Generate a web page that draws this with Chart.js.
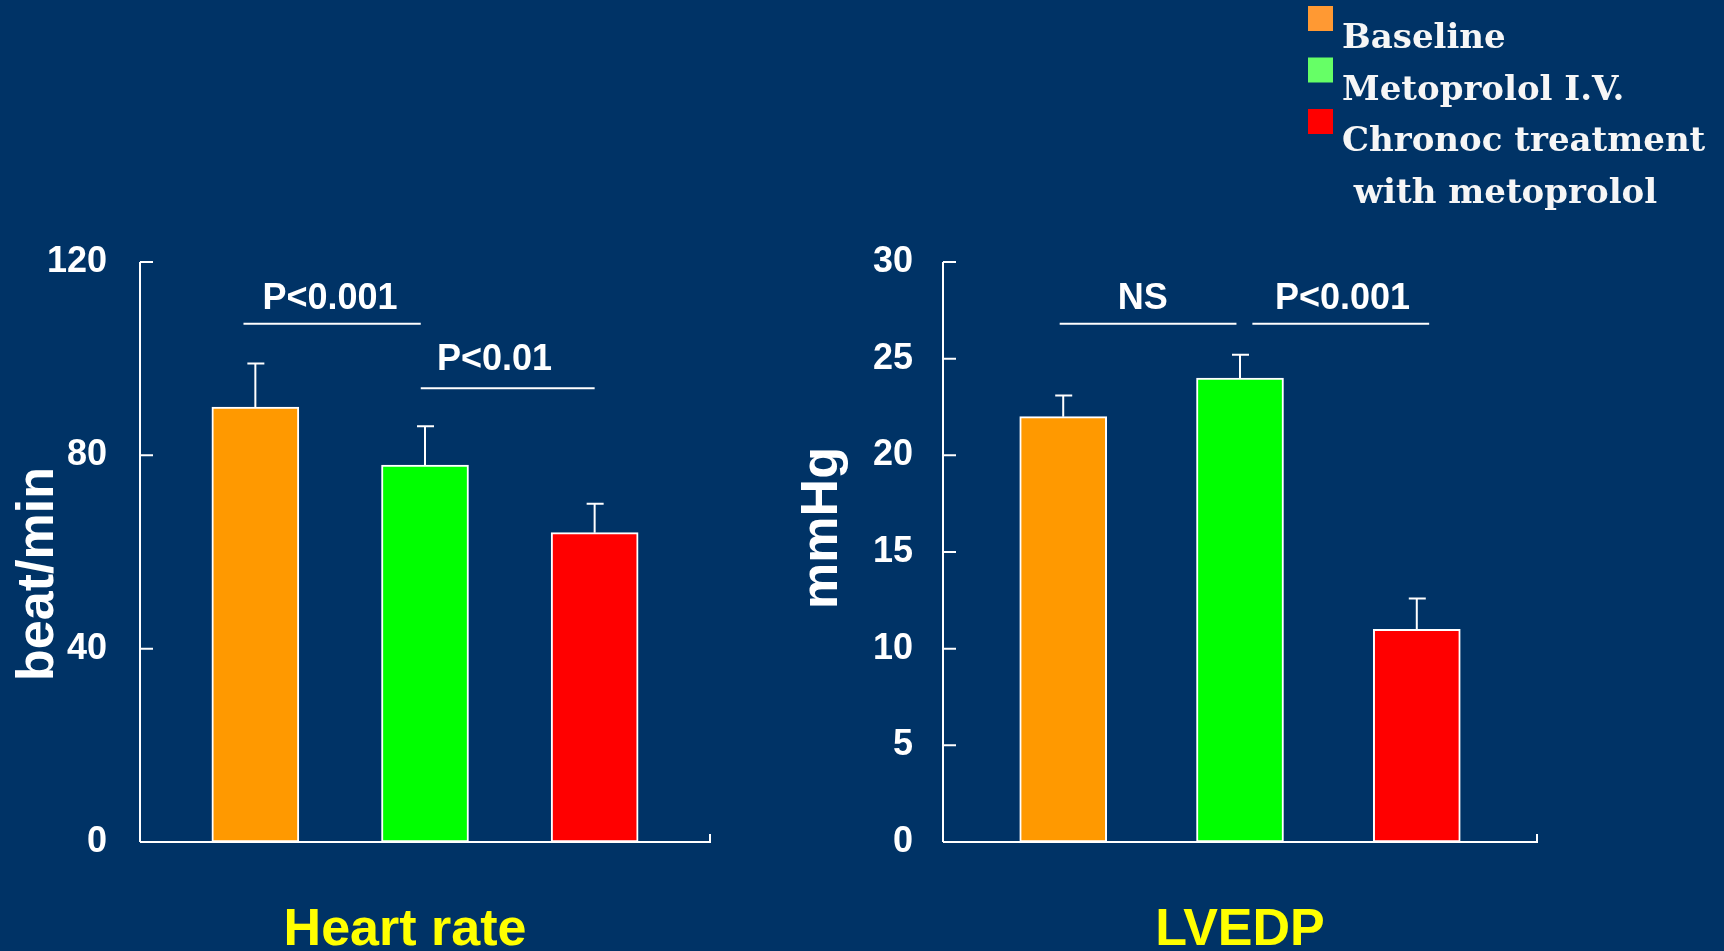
<!DOCTYPE html>
<html>
<head>
<meta charset="utf-8">
<title>Metoprolol: heart rate and LVEDP</title>
<script src="https://cdn.jsdelivr.net/npm/chart.js@4/dist/chart.umd.min.js"></script>
<style>
  html, body { margin: 0; padding: 0; background: #003366; overflow: hidden; }
  #wrap { position: relative; width: 1724px; height: 951px; }
  #wrap canvas { position: absolute; left: 0; top: 0; }
</style>
</head>
<body>
<div id="wrap">
  <canvas id="hrChart" width="1724" height="951"></canvas>
  <canvas id="lvChart" width="1724" height="951"></canvas>
</div>
<script>
// Treatment groups, in plotting order
const groups = ['Baseline', 'Metoprolol I.V.', 'Chronoc treatment with metoprolol'];
const legendLines = [['Baseline'], ['Metoprolol I.V.'], ['Chronoc treatment', ' with metoprolol']];
const groupPos = [1, 2, 3];

// Heart rate (beat/min): mean and SD
const heartRate = [90, 78, 64];
const heartRateSD = [9, 8, 6];
const heartRateTicks = [0, 40, 80, 120];

// LVEDP (mmHg): mean and SD
const lvedp = [22, 24, 11];
const lvedpSD = [1.1, 1.2, 1.6];
const lvedpTicks = [0, 5, 10, 15, 20, 25, 30];

// Pairwise comparison brackets (x in group units, levels in axis units)
const heartRateTests = [
  { text: 'P<0.001', from: 0.93, to: 1.975, level: 107.2, textAt: 1.44, textLevel: 110.3 },
  { text: 'P<0.01',  from: 1.975, to: 3.0,  level: 93.9,  textAt: 2.41, textLevel: 97.6 }
];
const lvedpTests = [
  { text: 'NS',      from: 0.98, to: 1.98, level: 26.8, textAt: 1.45, textLevel: 27.57 },
  { text: 'P<0.001', from: 2.07, to: 3.07, level: 26.8, textAt: 2.58, textLevel: 27.57 }
];

const barColors = ['#ff9900', '#00ff00', '#ff0000'];
const legendColors = ['#ff9933', '#66ff66', '#ff0000'];

const SANS = '"Liberation Sans", Arial, Helvetica, sans-serif';
const SERIF = '"DejaVu Serif", "Liberation Serif", serif';
const AXIS_BOX = 140;   // width reserved for y tick labels

Chart.defaults.font.family = SANS;

// Axes with inward ticks, error bars, comparison brackets and panel labels
const panelDecor = {
  id: 'panelDecor',
  afterDatasetsDraw(chart, args, o) {
    const ctx = chart.ctx;
    const xs = chart.scales.x, ys = chart.scales.y;
    const area = chart.chartArea;
    ctx.save();
    ctx.strokeStyle = '#ffffff';
    ctx.fillStyle = '#ffffff';
    ctx.lineWidth = 2;
    ctx.lineCap = 'butt';

    // y axis line and inward ticks
    const yTop = ys.getPixelForValue(ys.max);
    ctx.beginPath();
    ctx.moveTo(area.left, yTop);
    ctx.lineTo(area.left, area.bottom);
    ys.ticks.forEach(t => {
      const y = ys.getPixelForValue(t.value);
      ctx.moveTo(area.left, y);
      ctx.lineTo(area.left + 13, y);
    });
    // x axis line with end tick
    ctx.moveTo(area.left, area.bottom);
    ctx.lineTo(area.right, area.bottom);
    ctx.moveTo(area.right, area.bottom + 1);
    ctx.lineTo(area.right, area.bottom - 8);
    ctx.stroke();

    // error bars (upper half)
    ctx.beginPath();
    o.means.forEach((m, i) => {
      const x = xs.getPixelForValue(groupPos[i]);
      const y0 = ys.getPixelForValue(m);
      const y1 = ys.getPixelForValue(m + o.sds[i]);
      ctx.moveTo(x, y0);
      ctx.lineTo(x, y1);
      ctx.moveTo(x - 8, y1);
      ctx.lineTo(x + 9, y1);
    });
    ctx.stroke();

    // comparison brackets
    ctx.font = 'bold 36px ' + SANS;
    ctx.textAlign = 'center';
    ctx.textBaseline = 'alphabetic';
    o.tests.forEach(t => {
      const y = ys.getPixelForValue(t.level);
      ctx.beginPath();
      ctx.moveTo(xs.getPixelForValue(t.from), y);
      ctx.lineTo(xs.getPixelForValue(t.to), y);
      ctx.stroke();
      ctx.fillText(t.text, xs.getPixelForValue(t.textAt), ys.getPixelForValue(t.textLevel));
    });

    // rotated y-axis title
    ctx.save();
    ctx.font = 'bold 52px ' + SANS;
    ctx.translate(o.yTitleX, o.yTitleY);
    ctx.rotate(-Math.PI / 2);
    ctx.fillText(o.yTitle, 0, 0);
    ctx.restore();

    // panel title
    ctx.fillStyle = '#ffff00';
    ctx.font = 'bold 52px ' + SANS;
    ctx.fillText(o.title, o.titleX, o.titleY);

    // group legend
    if (o.legend) {
      const L = o.legend;
      ctx.textAlign = 'left';
      ctx.font = 'bold 34px ' + SERIF;
      let line = 0;
      groups.forEach((g, i) => {
        ctx.fillStyle = legendColors[i];
        ctx.fillRect(L.x, L.boxTop + i * L.step, L.box, L.box);
        ctx.fillStyle = '#f6f6f6';
        legendLines[i].forEach(txt => {
          ctx.fillText(txt, L.x + 34, L.firstBaseline + line * L.step);
          line++;
        });
      });
    }
    ctx.restore();
  }
};

function makePanel(id, means, sds, ticks, yMax, tests, padding, tickPad, extra) {
  return new Chart(document.getElementById(id), {
    type: 'bar',
    data: {
      datasets: [{
        data: groupPos.map((x, i) => ({ x: x, y: means[i] })),
        backgroundColor: barColors,
        borderColor: '#ffffff',
        borderWidth: 2,
        borderSkipped: false,
        barThickness: 87
      }]
    },
    options: {
      responsive: false,
      animation: false,
      devicePixelRatio: 1,
      layout: { padding: padding },
      plugins: {
        legend: { display: false },
        tooltip: { enabled: false },
        panelDecor: Object.assign({ means: means, sds: sds, tests: tests }, extra)
      },
      scales: {
        x: { type: 'linear', min: 0.32, max: 3.68, offset: false, display: false },
        y: {
          min: 0, max: yMax,
          afterBuildTicks: s => { s.ticks = ticks.map(v => ({ value: v })); },
          afterFit: s => { s.width = AXIS_BOX; },
          ticks: { color: '#ffffff', padding: tickPad, font: { size: 36, weight: 'bold', family: SANS } },
          grid: { display: false, drawTicks: false },
          border: { display: false }
        }
      }
    },
    plugins: [panelDecor]
  });
}

makePanel('hrChart', heartRate, heartRateSD, heartRateTicks, 120, heartRateTests,
  { left: 140 - AXIS_BOX, right: 1724 - 710, top: 262, bottom: 951 - 842 }, 33,
  { yTitle: 'beat/min', yTitleX: 53, yTitleY: 574, title: 'Heart rate', titleX: 405, titleY: 945 });

makePanel('lvChart', lvedp, lvedpSD, lvedpTicks, 30, lvedpTests,
  { left: 943 - AXIS_BOX, right: 1724 - 1537, top: 262, bottom: 951 - 842 }, 30,
  { yTitle: 'mmHg', yTitleX: 837, yTitleY: 528, title: 'LVEDP', titleX: 1240, titleY: 945,
    legend: { x: 1308, boxTop: 6, box: 25, step: 51.5, firstBaseline: 48 } });
</script>
</body>
</html>
